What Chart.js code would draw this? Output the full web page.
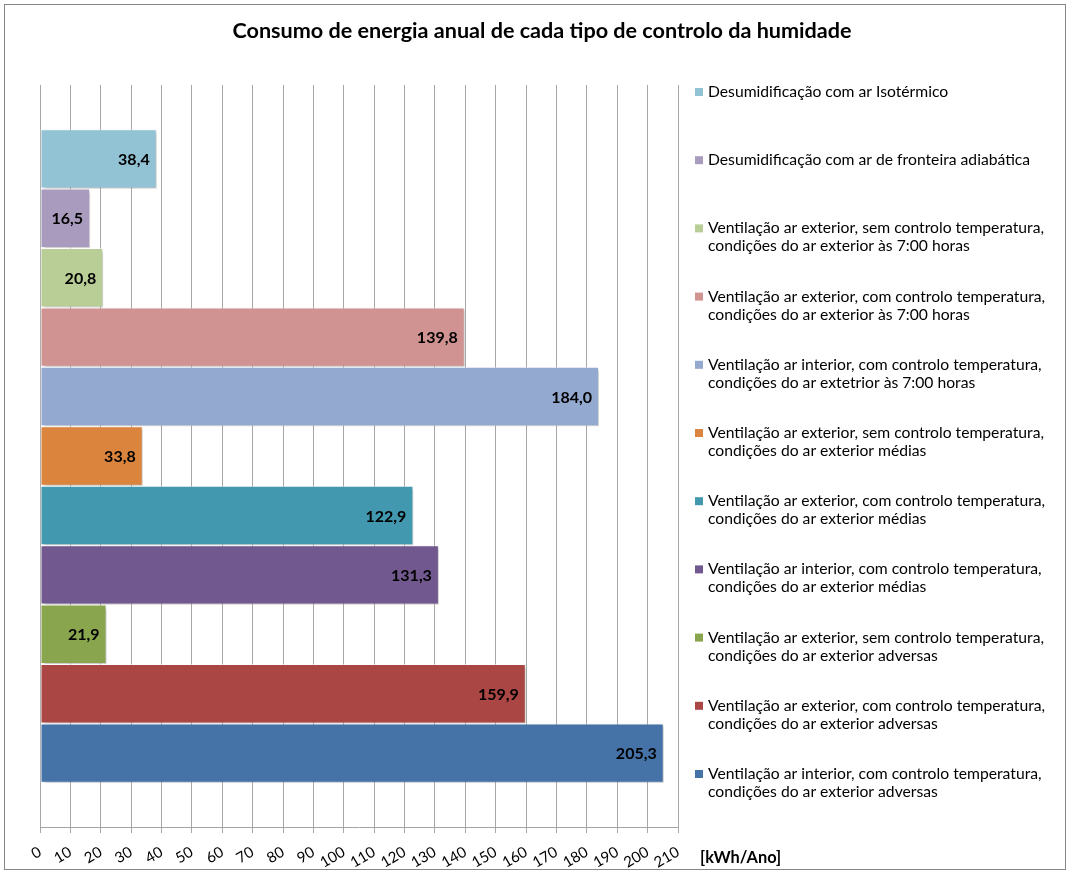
<!DOCTYPE html>
<html>
<head>
<meta charset="utf-8">
<script src="https://cdn.jsdelivr.net/npm/chart.js@4"></script>
<style>
  body { margin: 0; background: #fff; }
  canvas { display: block; }
</style>
</head>
<body>
<canvas id="energyChart" width="1070" height="875"></canvas>
<script>
// data
var categories = [''];
var seriesNames = [
  'Desumidificação com ar Isotérmico',
  'Desumidificação com ar de fronteira adiabática',
  'Ventilação ar exterior, sem controlo temperatura,\ncondições do ar exterior às 7:00 horas',
  'Ventilação ar exterior, com controlo temperatura,\ncondições do ar exterior às 7:00 horas',
  'Ventilação ar interior, com controlo temperatura,\ncondições do ar extetrior às 7:00 horas',
  'Ventilação ar exterior, sem controlo temperatura,\ncondições do ar exterior médias',
  'Ventilação ar exterior, com controlo temperatura,\ncondições do ar exterior médias',
  'Ventilação ar interior, com controlo temperatura,\ncondições do ar exterior médias',
  'Ventilação ar exterior, sem controlo temperatura,\ncondições do ar exterior adversas',
  'Ventilação ar exterior, com controlo temperatura,\ncondições do ar exterior adversas',
  'Ventilação ar interior, com controlo temperatura,\ncondições do ar exterior adversas'
];
var seriesValues = [38.4, 16.5, 20.8, 139.8, 184.0, 33.8, 122.9, 131.3, 21.9, 159.9, 205.3];
var seriesColors = ['#91C3D5', '#A99BBD', '#B9CD96', '#D19392', '#93A9CF', '#DB843D',
                    '#4198AF', '#71588F', '#89A54E', '#AA4643', '#4572A7'];
var axisMax = 210;
var axisStep = 10;
var chartTitle = 'Consumo de energia anual de cada tipo de controlo da humidade';
var unitLabel = '[kWh/Ano]';

var FONT = 'Lato, "Open Sans", sans-serif';

var datasets = [];
for (var i = 0; i < seriesValues.length; i++) {
  datasets.push({
    label: seriesNames[i],
    data: [seriesValues[i]],
    backgroundColor: seriesColors[i],
    borderColor: 'rgba(255,255,255,0.55)',
    borderWidth: 1,
    borderSkipped: false,
    categoryPercentage: 0.881,
    barPercentage: 1.0
  });
}

var extras = {
  id: 'extras',
  beforeDraw: function(chart) {
    var ctx = chart.ctx;
    ctx.save();
    ctx.fillStyle = '#fff';
    ctx.fillRect(0, 0, chart.width, chart.height);
    ctx.strokeStyle = '#868686';
    ctx.lineWidth = 1;
    ctx.strokeRect(4.5, 4.5, 1061, 865);
    ctx.restore();
  },
  beforeDatasetsDraw: function(chart) {
    var ctx = chart.ctx;
    ctx.save();
    ctx.shadowColor = 'rgba(0,0,0,0.25)';
    ctx.shadowOffsetX = 2;
    ctx.shadowOffsetY = 2;
    ctx.shadowBlur = 3;
  },
  afterDatasetsDraw: function(chart) {
    var ctx = chart.ctx;
    ctx.restore();
    ctx.save();
    ctx.font = 'bold 16px ' + FONT;
    ctx.fillStyle = '#000';
    ctx.textAlign = 'right';
    ctx.textBaseline = 'middle';
    chart.data.datasets.forEach(function(ds, i) {
      var bar = chart.getDatasetMeta(i).data[0];
      var txt = ds.data[0].toFixed(1).replace('.', ',');
      ctx.fillText(txt, bar.x - 7, bar.y + 1);
    });
    ctx.restore();
  },
  afterDraw: function(chart) {
    var ctx = chart.ctx;
    ctx.save();
    // title
    ctx.font = 'bold 21.6px ' + FONT;
    ctx.fillStyle = '#000';
    ctx.textAlign = 'center';
    ctx.textBaseline = 'middle';
    ctx.fillText(chartTitle, 542, 31);
    // legend
    ctx.font = '15.7px ' + FONT;
    ctx.textAlign = 'left';
    chart.data.datasets.forEach(function(ds, i) {
      var y0 = 92 + 68.2 * i;
      ctx.fillStyle = ds.backgroundColor;
      ctx.fillRect(695, y0 - 4, 8, 8);
      ctx.fillStyle = '#000';
      ds.label.split('\n').forEach(function(line, k) {
        ctx.fillText(line, 708, y0 + 18 * k);
      });
    });
    // unit label
    ctx.font = 'bold 16.4px ' + FONT;
    ctx.fillText(unitLabel, 700, 858);
    ctx.restore();
  }
};

new Chart(document.getElementById('energyChart'), {
  type: 'bar',
  data: { labels: categories, datasets: datasets },
  options: {
    indexAxis: 'y',
    responsive: false,
    animation: false,
    devicePixelRatio: 1,
    layout: { padding: { left: 40, right: 392, top: 85, bottom: 0 } },
    plugins: { legend: { display: false }, title: { display: false }, tooltip: { enabled: false } },
    scales: {
      y: { display: false },
      x: {
        min: 0,
        max: axisMax,
        afterFit: function(s) { s.height = 48; },
        grid: { color: '#a6a6a6', tickLength: 6, tickColor: '#a6a6a6' },
        border: { color: '#a6a6a6' },
        ticks: {
          stepSize: axisStep,
          autoSkip: false,
          minRotation: 30,
          maxRotation: 30,
          color: '#000',
          padding: 10,
          font: { family: FONT, size: 15 }
        }
      }
    }
  },
  plugins: [extras]
});
</script>
</body>
</html>
